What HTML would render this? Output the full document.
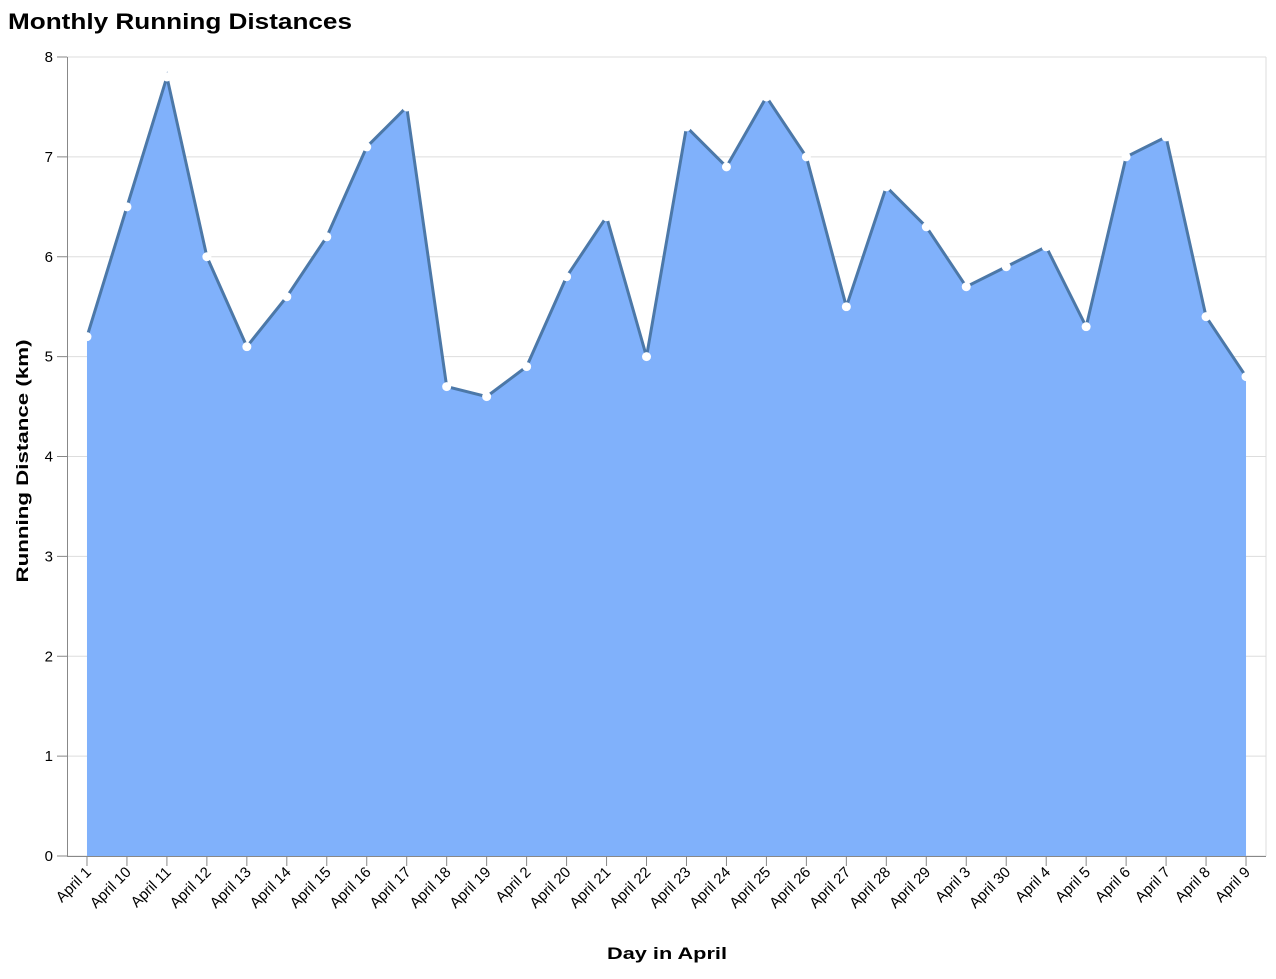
<!DOCTYPE html>
<html><head><meta charset="utf-8"><style>
body{margin:0;background:#fff;font-family:"Liberation Sans",Arial,sans-serif}
svg text{font-family:"Liberation Sans",Arial,sans-serif}
</style></head><body>
<svg id="chart" width="1276" height="974" xmlns="http://www.w3.org/2000/svg">
<text x="8" y="29" font-size="22" font-weight="bold" fill="#000" textLength="344" lengthAdjust="spacingAndGlyphs">Monthly Running Distances</text>
<g id="grid"></g><g id="marks"></g><g id="axes"></g>
<text x="667" y="959" font-size="17" font-weight="bold" text-anchor="middle" textLength="120" lengthAdjust="spacingAndGlyphs">Day in April</text>
<text transform="translate(28,461) rotate(-90)" font-size="17" font-weight="bold" text-anchor="middle" textLength="243" lengthAdjust="spacingAndGlyphs">Running Distance (km)</text>
</svg>
<script>
const categories=["April 1","April 10","April 11","April 12","April 13","April 14","April 15","April 16","April 17","April 18","April 19","April 2","April 20","April 21","April 22","April 23","April 24","April 25","April 26","April 27","April 28","April 29","April 3","April 30","April 4","April 5","April 6","April 7","April 8","April 9"];
const distances=[5.2,6.5,7.8,6.0,5.1,5.6,6.2,7.1,7.5,4.7,4.6,4.9,5.8,6.4,5.0,7.3,6.9,7.6,7.0,5.5,6.7,6.3,5.7,5.9,6.1,5.3,7.0,7.2,5.4,4.8];
const yTicks=[0,1,2,3,4,5,6,7,8];
const NS="http://www.w3.org/2000/svg";
const L=67,R=1266,T=57,B=856;
const step=(R-L)/categories.length;
const x=i=>L+step*(i+0.5);
const y=v=>B-(v/8)*(B-T);
function mk(tag,attrs,parent){const e=document.createElementNS(NS,tag);for(const k in attrs)e.setAttribute(k,attrs[k]);parent.appendChild(e);return e;}
const grid=document.getElementById('grid'),marks=document.getElementById('marks'),axes=document.getElementById('axes');
const frame=mk('line',{x1:R,x2:R,y1:T,y2:B,stroke:'#ddd','stroke-width':1},grid);


yTicks.forEach(t=>{
 const g=mk('line',{x1:L,x2:R,y1:y(t),y2:y(t),stroke:'#ddd','stroke-width':1},grid);
 
 
 const tk=mk('line',{x1:L-10,x2:L,y1:y(t),y2:y(t),stroke:'#888'},axes);
 
 
 const tx=mk('text',{x:L-14,y:y(t)+5,'font-size':15,'text-anchor':'end',fill:'#000'},axes);
 tx.textContent=t;
 
 
});
let d='M'+x(0)+','+B;
distances.forEach((v,i)=>d+=' L'+x(i)+','+y(v));
d+=' L'+x(distances.length-1)+','+B+' Z';
const area=mk('path',{d:d,fill:'#80b1fb'},marks);


const line=mk('path',{d:distances.map((v,i)=>(i?'L':'M')+x(i)+','+y(v)).join(' '),fill:'none',stroke:'#4c78a8','stroke-width':3,'stroke-linejoin':'miter'},marks);


distances.forEach((v,i)=>{
 const c=mk('circle',{cx:x(i),cy:y(v),r:4.5,fill:'#fff'},marks);
 
 
});
const ax=mk('line',{x1:L,x2:R,y1:B+0.5,y2:B+0.5,stroke:'#888'},axes);


const ay=mk('line',{x1:L+0.5,x2:L+0.5,y1:T,y2:B,stroke:'#888'},axes);


categories.forEach((c,i)=>{
 const tk=mk('line',{x1:x(i),x2:x(i),y1:B,y2:B+10,stroke:'#888'},axes);
 
 
 const tx=mk('text',{transform:`translate(${x(i)+5},${B+17}) rotate(-45)`,'font-size':15,'text-anchor':'end',fill:'#000'},axes);
 tx.textContent=c;
 
 
});
</script>
</body></html>
